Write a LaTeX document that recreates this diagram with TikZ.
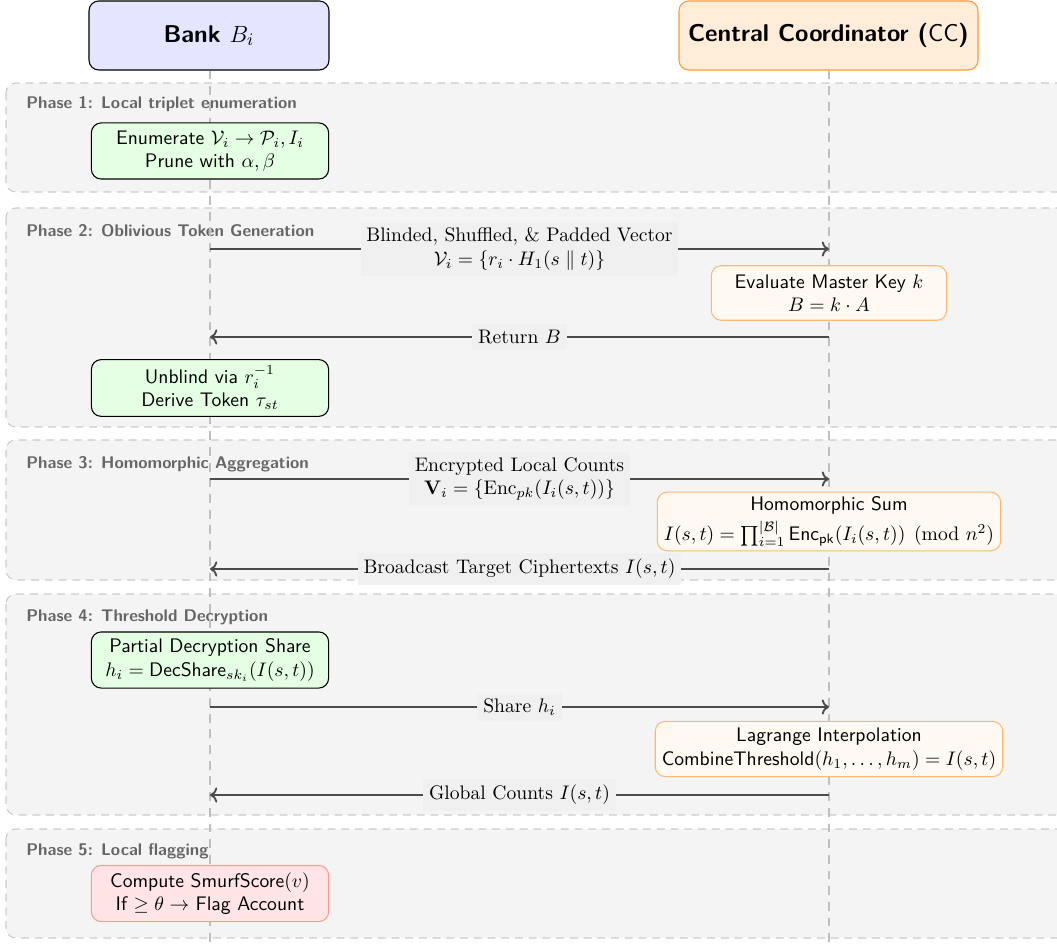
\documentclass[tikz,border=0pt]{standalone}
\usepackage{amsmath,amssymb}
\usetikzlibrary{arrows.meta}
\begin{document}
\begin{tikzpicture}[x=0.51pt,y=-0.51pt,
  phase/.style={draw=gray!40, dashed, dash pattern=on 4pt off 3pt, fill=gray!9, rounded corners=5pt, line width=0.55pt},
  phaselabel/.style={anchor=west, inner sep=0pt, font=\sffamily\fontsize{8.6}{10}\selectfont\bfseries, text=black!60},
  actor/.style={rounded corners=5pt, minimum width=122.4pt, minimum height=35.2pt, font=\sffamily\fontsize{12.4}{14}\selectfont\bfseries, line width=0.55pt},
  bankstep/.style={draw=black, fill=green!10, rounded corners=5pt, minimum width=121pt, minimum height=28.6pt, align=center, font=\sffamily, line width=0.55pt},
  ccstep/.style={draw=orange!55, fill=orange!5, rounded corners=5pt, minimum width=120pt, minimum height=27.8pt, align=center, font=\sffamily, line width=0.55pt},
  alertstep/.style={draw=red!40, fill=red!10, rounded corners=5pt, minimum width=121pt, minimum height=28.6pt, align=center, font=\sffamily, line width=0.55pt},
  lifeline/.style={draw=gray!50, line width=0.8pt, dash pattern=on 4.5pt off 3.5pt},
  msg/.style={draw=black!70, line width=0.95pt},
  msglabel/.style={fill=gray!12, font=\rmfamily, align=center, inner sep=3pt}
]
\useasboundingbox (0,0) rectangle (1057,945);
\clip (0,0) rectangle (1057,945);

% phase backgrounds
\draw[phase] (6,83) rectangle (1075,192);
\draw[phase] (6,208) rectangle (1075,427);
\draw[phase] (6,440) rectangle (1075,580);
\draw[phase] (6,594) rectangle (1075,815);
\draw[phase] (6,829) rectangle (1075,938);

\node[phaselabel] (p1) at (26,104) {Phase 1: Local triplet enumeration};
\node[phaselabel] (p2) at (26,231) {Phase 2: Oblivious Token Generation};
\node[phaselabel] (p3) at (26,464) {Phase 3: Homomorphic Aggregation};
\node[phaselabel] (p4) at (26,617) {Phase 4: Threshold Decryption};
\node[phaselabel] (p5) at (26,851) {Phase 5: Local flagging};

% actors
\node[actor, draw=black, fill=blue!10] (bank) at (209,35.5) {Bank $B_i$};
\node[actor, draw=orange!80, fill=orange!15, minimum width=152.5pt] (cc) at (828.5,35.5) {Central Coordinator (\textsf{\mdseries CC})};

% lifelines
\coordinate (bankend) at (210,945);
\coordinate (ccend) at (829,945);
\draw[lifeline] (bank.south -| bankend) -- (bankend);
\draw[lifeline] (cc.south -| ccend) -- (ccend);

% steps
\node[bankstep] (enum) at (210,151) {Enumerate $\mathcal{V}_i \rightarrow \mathcal{P}_i, I_i$\\Prune with $\alpha, \beta$};
\node[ccstep] (eval) at (829,293) {Evaluate Master Key $k$\\$B = k \cdot A$};
\node[bankstep] (unblind) at (210,388) {Unblind via $r_i^{-1}$\\Derive Token $\tau_{st}$};
\node[ccstep, inner ysep=2pt] (homsum) at (829,521.5) {Homomorphic Sum\\[2.5pt]$I(s,t) = \prod_{i=1}^{|\mathcal{B}|} \mathsf{Enc}_{\mathsf{pk}}(I_i(s,t)) \pmod{n^2}$};
\node[bankstep] (partial) at (210,660) {Partial Decryption Share\\$h_i = \mathsf{DecShare}_{sk_i}(I(s,t))$};
\node[ccstep] (lagrange) at (829,749) {Lagrange Interpolation\\$\mathsf{CombineThreshold}(h_1,\dots,h_m) = I(s,t)$};
\node[alertstep] (compute) at (210,893.5) {Compute $\mathsf{SmurfScore}(v)$\\If $\geq \theta \rightarrow$ Flag Account};

% message anchor points
\coordinate (b1) at (210,249); \coordinate (c1) at (829,249);
\coordinate (b2) at (210,337); \coordinate (c2) at (829,337);
\coordinate (b3) at (210,479); \coordinate (c3) at (829,479);
\coordinate (b4) at (210,569); \coordinate (c4) at (829,569);
\coordinate (b5) at (210,707); \coordinate (c5) at (829,707);
\coordinate (b6) at (210,795); \coordinate (c6) at (829,795);

\draw[msg,->] (b1) -- node[msglabel] (l1) {Blinded, Shuffled, \& Padded Vector\\$\mathcal{V}_i = \{r_i \cdot H_1(s \parallel t)\}$} (c1);
\draw[msg,<-] (b2) -- node[msglabel] (l2) {Return $B$} (c2);
\draw[msg,->] (b3) -- node[msglabel] (l3) {Encrypted Local Counts\\$\mathbf{V}_i = \{\mathrm{Enc}_{pk}(I_i(s,t))\}$} (c3);
\draw[msg,<-] (b4) -- node[msglabel] (l4) {Broadcast Target Ciphertexts $I(s,t)$} (c4);
\draw[msg,->] (b5) -- node[msglabel] (l5) {Share $h_i$} (c5);
\draw[msg,<-] (b6) -- node[msglabel] (l6) {Global Counts $I(s,t)$} (c6);
\end{tikzpicture}
\end{document}
